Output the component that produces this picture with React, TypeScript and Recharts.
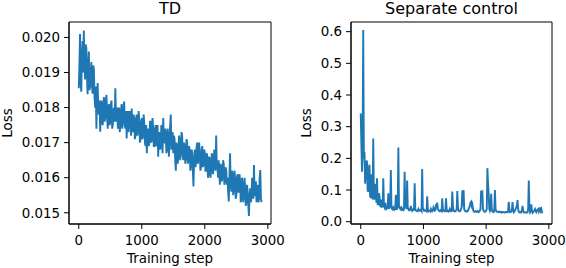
import React from 'react';
import { LineChart, Line, XAxis, YAxis, ReferenceArea } from 'recharts';

const steps = [
  0, 10, 20, 30, 40, 50, 60, 70, 80, 90, 100, 110, 120, 130, 140, 150, 160, 170, 180, 190,
  200, 210, 220, 230, 240, 250, 260, 270, 280, 290, 300, 310, 320, 330, 340, 350, 360, 370, 380, 390,
  400, 410, 420, 430, 440, 450, 460, 470, 480, 490, 500, 510, 520, 530, 540, 550, 560, 570, 580, 590,
  600, 610, 620, 630, 640, 650, 660, 670, 680, 690, 700, 710, 720, 730, 740, 750, 760, 770, 780, 790,
  800, 810, 820, 830, 840, 850, 860, 870, 880, 890, 900, 910, 920, 930, 940, 950, 960, 970, 980, 990,
  1000, 1010, 1020, 1030, 1040, 1050, 1060, 1070, 1080, 1090, 1100, 1110, 1120, 1130, 1140, 1150, 1160, 1170, 1180, 1190,
  1200, 1210, 1220, 1230, 1240, 1250, 1260, 1270, 1280, 1290, 1300, 1310, 1320, 1330, 1340, 1350, 1360, 1370, 1380, 1390,
  1400, 1410, 1420, 1430, 1440, 1450, 1460, 1470, 1480, 1490, 1500, 1510, 1520, 1530, 1540, 1550, 1560, 1570, 1580, 1590,
  1600, 1610, 1620, 1630, 1640, 1650, 1660, 1670, 1680, 1690, 1700, 1710, 1720, 1730, 1740, 1750, 1760, 1770, 1780, 1790,
  1800, 1810, 1820, 1830, 1840, 1850, 1860, 1870, 1880, 1890, 1900, 1910, 1920, 1930, 1940, 1950, 1960, 1970, 1980, 1990,
  2000, 2010, 2020, 2030, 2040, 2050, 2060, 2070, 2080, 2090, 2100, 2110, 2120, 2130, 2140, 2150, 2160, 2170, 2180, 2190,
  2200, 2210, 2220, 2230, 2240, 2250, 2260, 2270, 2280, 2290, 2300, 2310, 2320, 2330, 2340, 2350, 2360, 2370, 2380, 2390,
  2400, 2410, 2420, 2430, 2440, 2450, 2460, 2470, 2480, 2490, 2500, 2510, 2520, 2530, 2540, 2550, 2560, 2570, 2580, 2590,
  2600, 2610, 2620, 2630, 2640, 2650, 2660, 2670, 2680, 2690, 2700, 2710, 2720, 2730, 2740, 2750, 2760, 2770, 2780, 2790,
  2800, 2810, 2820, 2830, 2840, 2850, 2860, 2870, 2880, 2890, 2900,
];

const tdLoss = [
  0.01855, 0.0192, 0.0201, 0.0187, 0.01845, 0.0195, 0.0199, 0.0190, 0.0202, 0.0193, 0.0188, 0.0198, 0.0197, 0.0189, 0.01838, 0.0192, 0.0196, 0.0185, 0.0186, 0.0190,
  0.0193, 0.0186, 0.0184, 0.0192, 0.0191, 0.0183, 0.0180, 0.0186, 0.0174, 0.0183, 0.0187, 0.0179, 0.0178, 0.0182, 0.01731, 0.0179, 0.0182, 0.0176, 0.0175, 0.0181,
  0.0183, 0.0176, 0.0177, 0.0182, 0.01836, 0.0177, 0.0174, 0.0180, 0.0181, 0.0175, 0.0176, 0.0181, 0.0182, 0.0174, 0.0175, 0.0179, 0.0180, 0.0176, 0.01855, 0.0178,
  0.0176, 0.0180, 0.0174, 0.0178, 0.0180, 0.0173, 0.0175, 0.0179, 0.0181, 0.0174, 0.0176, 0.0180, 0.01817, 0.0175, 0.0174, 0.0179, 0.01712, 0.0177, 0.0179, 0.0173,
  0.0175, 0.0179, 0.0178, 0.0172, 0.01797, 0.0175, 0.0173, 0.0178, 0.0177, 0.0171, 0.0172, 0.0177, 0.0178, 0.0172, 0.0174, 0.0179, 0.0176, 0.0170, 0.0171, 0.0176,
  0.0177, 0.0171, 0.0172, 0.0178, 0.0175, 0.0170, 0.0169, 0.0175, 0.0167, 0.0173, 0.0174, 0.0169, 0.0170, 0.0176, 0.0176, 0.0170, 0.0171, 0.0177, 0.0174, 0.0169,
  0.0169, 0.0174, 0.0175, 0.0169, 0.0170, 0.0175, 0.0166, 0.0172, 0.0173, 0.0168, 0.0169, 0.0175, 0.0172, 0.0167, 0.0177, 0.0170, 0.0170, 0.0174, 0.0173, 0.0167,
  0.0168, 0.0174, 0.0172, 0.0166, 0.0170, 0.0175, 0.0178, 0.0168, 0.0169, 0.0173, 0.0167, 0.0172, 0.0171, 0.0165, 0.0162, 0.0170, 0.0169, 0.0164, 0.0166, 0.0172,
  0.0171, 0.0165, 0.0167, 0.0173, 0.0172, 0.0166, 0.0165, 0.0170, 0.0169, 0.0164, 0.0166, 0.0171, 0.0170, 0.0164, 0.0165, 0.0169, 0.0168, 0.0162, 0.0163, 0.0168,
  0.0167, 0.0162, 0.01575, 0.0165, 0.0168, 0.0163, 0.0164, 0.0169, 0.0170, 0.0164, 0.0165, 0.0170, 0.0167, 0.0162, 0.0163, 0.0168, 0.0169, 0.0163, 0.0164, 0.0168,
  0.0167, 0.0162, 0.0162, 0.0167, 0.0166, 0.0160, 0.0161, 0.0166, 0.0165, 0.0160, 0.0162, 0.0167, 0.0166, 0.0161, 0.0163, 0.0168, 0.0167, 0.0162, 0.0172, 0.0163,
  0.0163, 0.0160, 0.0165, 0.0161, 0.0158, 0.0164, 0.0163, 0.0159, 0.0160, 0.0165, 0.0164, 0.0158, 0.0159, 0.0163, 0.0162, 0.0158, 0.0160, 0.0156, 0.01532, 0.0160,
  0.0167, 0.0159, 0.0156, 0.0162, 0.0161, 0.0155, 0.0157, 0.0162, 0.0160, 0.0154, 0.0155, 0.0160, 0.0161, 0.0156, 0.0156, 0.0161, 0.0159, 0.0153, 0.0154, 0.0160,
  0.0158, 0.0153, 0.0155, 0.0160, 0.0157, 0.0152, 0.0153, 0.0158, 0.0156, 0.0152, 0.01491, 0.0155, 0.0157, 0.0153, 0.0154, 0.0160, 0.0159, 0.0154, 0.01636, 0.0155,
  0.0155, 0.0159, 0.0153, 0.0157, 0.0158, 0.0153, 0.0154, 0.0160, 0.01622, 0.0154, 0.0153,
];

const separateLoss = [
  0.342, 0.25, 0.158, 0.21, 0.605, 0.20, 0.22, 0.12, 0.15, 0.19, 0.19, 0.10, 0.095, 0.17, 0.18, 0.08, 0.075, 0.15, 0.14, 0.07,
  0.263, 0.08, 0.07, 0.12, 0.10, 0.06, 0.137, 0.055, 0.055, 0.09, 0.08, 0.05, 0.048, 0.07, 0.06, 0.045, 0.137, 0.05, 0.045, 0.06,
  0.05, 0.04, 0.042, 0.05, 0.09, 0.04, 0.045, 0.05, 0.163, 0.045, 0.04, 0.038, 0.045, 0.04, 0.038, 0.042, 0.085, 0.04, 0.04, 0.045,
  0.234, 0.05, 0.045, 0.04, 0.038, 0.045, 0.042, 0.037, 0.036, 0.04, 0.158, 0.045, 0.05, 0.04, 0.13, 0.045, 0.04, 0.036, 0.036, 0.04,
  0.05, 0.038, 0.034, 0.037, 0.04, 0.035, 0.121, 0.04, 0.035, 0.034, 0.033, 0.036, 0.04, 0.034, 0.034, 0.037, 0.036, 0.033, 0.166, 0.04,
  0.04, 0.034, 0.034, 0.036, 0.035, 0.033, 0.08, 0.04, 0.033, 0.035, 0.034, 0.032, 0.04, 0.035, 0.033, 0.036, 0.045, 0.04, 0.035, 0.036,
  0.055, 0.05, 0.06, 0.04, 0.036, 0.034, 0.033, 0.036, 0.035, 0.033, 0.074, 0.04, 0.034, 0.033, 0.035, 0.034, 0.074, 0.04, 0.033, 0.034,
  0.032, 0.034, 0.04, 0.035, 0.033, 0.034, 0.095, 0.05, 0.034, 0.033, 0.032, 0.034, 0.035, 0.04, 0.097, 0.045, 0.034, 0.033, 0.033, 0.035,
  0.04, 0.045, 0.098, 0.05, 0.1, 0.04, 0.034, 0.033, 0.032, 0.034, 0.033, 0.035, 0.04, 0.045, 0.05, 0.06, 0.063, 0.05, 0.055, 0.04,
  0.033, 0.032, 0.031, 0.033, 0.032, 0.031, 0.034, 0.032, 0.03, 0.032, 0.035, 0.04, 0.098, 0.09, 0.093, 0.04, 0.034, 0.032, 0.031, 0.033,
  0.035, 0.04, 0.169, 0.12, 0.09, 0.04, 0.034, 0.04, 0.088, 0.04, 0.032, 0.031, 0.03, 0.04, 0.10, 0.04, 0.033, 0.031, 0.031, 0.032,
  0.03, 0.031, 0.032, 0.03, 0.029, 0.031, 0.031, 0.03, 0.03, 0.029, 0.029, 0.031, 0.031, 0.03, 0.03, 0.032, 0.063, 0.04, 0.03, 0.031,
  0.031, 0.035, 0.062, 0.04, 0.03, 0.032, 0.035, 0.04, 0.045, 0.05, 0.068, 0.04, 0.031, 0.03, 0.029, 0.031, 0.03, 0.035, 0.05, 0.035,
  0.029, 0.03, 0.03, 0.029, 0.028, 0.03, 0.03, 0.04, 0.13, 0.04, 0.03, 0.035, 0.055, 0.035, 0.028, 0.03, 0.033, 0.035, 0.04, 0.035,
  0.03, 0.034, 0.038, 0.04, 0.032, 0.038, 0.045, 0.035, 0.04, 0.03, 0.027,
];

const xTicks = [0, 1000, 2000, 3000];
const tdTicks = [0.015, 0.016, 0.017, 0.018, 0.019, 0.02];
const sepTicks = [0, 0.1, 0.2, 0.3, 0.4, 0.5, 0.6];

const FONT = '"DejaVu Sans", sans-serif';
const FS = 13.4;
const BLUE = '#1f77b4';
const X_DOMAIN: [number, number] = [-155, 3050];

const YLabel = (props: any) => {
  const vb = props.viewBox && props.viewBox.height ? props.viewBox : { x: 0, y: 22, width: 69, height: 202 };
  const cx = vb.x + props.dxOff;
  const cy = vb.y + vb.height / 2;
  return (
    <text
      x={cx}
      y={cy}
      transform={`rotate(-90, ${cx}, ${cy})`}
      textAnchor="middle"
      dominantBaseline="central"
      fontSize={FS}
      fontFamily={FONT}
      fill="#000"
    >
      {props.text}
    </text>
  );
};

type PanelProps = {
  title: string;
  values: number[];
  yDomain: [number, number];
  yTicks: number[];
  digits: number;
  yAxisWidth: number;
  labelOffset: number;
  marginRight: number;
};

const Panel = ({ title, values, yDomain, yTicks, digits, yAxisWidth, labelOffset, marginRight }: PanelProps) => {
  const data = steps.map((s, i) => ({ step: s, loss: values[i] }));
  return (
    <LineChart
      width={283}
      height={268}
      data={data}
      margin={{ top: 22, right: marginRight, bottom: 0, left: 0 }}
    >
      <XAxis
        dataKey="step"
        type="number"
        domain={X_DOMAIN}
        ticks={xTicks}
        allowDataOverflow
        height={44}
        tickSize={5}
        tickMargin={6}
        axisLine={{ stroke: '#000', strokeWidth: 1 }}
        tickLine={{ stroke: '#000', strokeWidth: 1 }}
        tick={{ fill: '#000', fontSize: FS, fontFamily: FONT }}
        label={{ value: 'Training step', position: 'insideBottom', offset: 5, fill: '#000', fontSize: FS, fontFamily: FONT }}
      />
      <YAxis
        type="number"
        domain={yDomain}
        ticks={yTicks}
        allowDataOverflow
        width={yAxisWidth}
        tickSize={5}
        tickMargin={4}
        tickFormatter={(v: number) => v.toFixed(digits)}
        axisLine={{ stroke: '#000', strokeWidth: 1 }}
        tickLine={{ stroke: '#000', strokeWidth: 1 }}
        tick={{ fill: '#000', fontSize: FS, fontFamily: FONT }}
        label={<YLabel text="Loss" dxOff={labelOffset} />}
      />
      <ReferenceArea
        x1={X_DOMAIN[0]}
        x2={X_DOMAIN[1]}
        y1={yDomain[0]}
        y2={yDomain[1]}
        fill="none"
        stroke="#000"
        strokeWidth={1}
        ifOverflow="visible"
        label={{ value: title, position: 'top', offset: 8, fill: '#000', fontSize: 16, fontFamily: FONT }}
      />
      <Line
        type="linear"
        dataKey="loss"
        stroke={BLUE}
        strokeWidth={1.9}
        dot={false}
        isAnimationActive={false}
      />
    </LineChart>
  );
};

export default function App() {
  return (
    <div style={{ position: 'absolute', left: 0, top: 0, width: 566, height: 268, background: '#fff', fontFamily: FONT }}>
      <style>{`.recharts-surface { overflow: visible; } .recharts-wrapper { overflow: visible; }`}</style>
      <div style={{ position: 'absolute', left: 283, top: 0 }}>
        <Panel
          title="Separate control"
          values={separateLoss}
          yDomain={[-0.0073, 0.6305]}
          yTicks={sepTicks}
          digits={1}
          yAxisWidth={68}
          labelOffset={23}
          marginRight={14}
        />
      </div>
      <div style={{ position: 'absolute', left: 0, top: 0 }}>
        <Panel
          title="TD"
          values={tdLoss}
          yDomain={[0.01468, 0.02044]}
          yTicks={tdTicks}
          digits={3}
          yAxisWidth={69}
          labelOffset={7.5}
          marginRight={12}
        />
      </div>
    </div>
  );
}
